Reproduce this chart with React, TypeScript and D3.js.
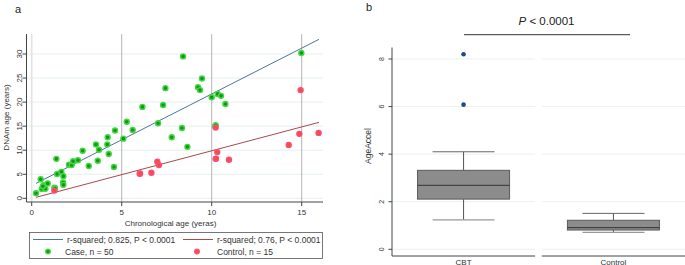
import React from "react";
import * as d3 from "d3";

// Panel a data
const caseX = [0.24, 0.5, 0.56, 0.67, 0.76, 0.89, 1.26, 1.37, 1.41, 1.65, 1.76, 1.74, 1.76, 2.07, 2.22, 2.3, 2.57, 2.83, 3.17, 3.57, 3.67, 3.74, 4.2, 4.22, 4.28, 4.57, 4.63, 5.09, 5.28, 5.61, 6.15, 7.02, 7.3, 7.43, 7.78, 8.35, 8.41, 8.65, 9.24, 9.35, 9.46, 10.0, 10.2, 10.33, 10.52, 10.76, 14.98, 0.62, 1.3, 10.22];
const caseY = [1.04, 3.95, 1.94, 2.7, 2.0, 3.1, 2.2, 8.2, 5.06, 5.5, 4.6, 3.3, 2.8, 7.0, 6.9, 7.7, 7.9, 9.9, 6.7, 11.2, 7.8, 10.1, 11.2, 12.7, 9.2, 6.5, 14.1, 12.4, 15.9, 14.2, 19.0, 15.6, 19.4, 22.9, 12.7, 14.6, 29.5, 10.7, 23.1, 22.5, 24.9, 21.0, 15.0, 21.7, 21.3, 19.6, 30.2, 2.5, 2.1, 15.2];
const ctrlX = [1.26, 6.0, 6.65, 6.98, 7.07, 10.22, 10.22, 10.31, 10.96, 14.28, 14.87, 14.94, 15.94, 6.02, 10.24];
const ctrlY = [1.6, 5.1, 5.3, 7.6, 6.9, 14.7, 8.2, 9.6, 8.0, 11.1, 13.4, 22.5, 13.6, 5.15, 8.25];
const caseFit = { slope: 1.905, intercept: 2.64 };
const ctrlFit = { slope: 0.992, intercept: -0.04 };
const fitRange = [0.24, 15.96];
const xTicksA = [0, 5, 10, 15];
const yTicksA = [0, 5, 10, 15, 20, 25, 30];
const legendLabels = ["r-squared; 0.825, P < 0.0001", "r-squared; 0.76, P < 0.0001", "Case, n = 50", "Control, n = 15"];

// Panel b data
const groups = ["CBT", "Control"];
const q1 = [2.11, 0.81];
const medians = [2.69, 0.91];
const q3 = [3.32, 1.22];
const whiskLo = [1.24, 0.71];
const whiskHi = [4.1, 1.51];
const outliers = [[8.2, 6.08], []];
const yTicksB = [0, 2, 4, 6, 8];

const FONT = "'Liberation Sans', Arial, sans-serif";
const BLUE = "#4d74a3";
const RED = "#a64a4e";

export default function App() {
  const xA = d3.scaleLinear().domain([0, 15]).range([31.7, 301.7]);
  const yA = d3.scaleLinear().domain([0, 30]).range([198.3, 54]);
  const line = d3.line<number>().x((d) => xA(d[0])).y((d) => yA(d[1]));
  const fitPts = (f: { slope: number; intercept: number }) =>
    fitRange.map((x) => [x, f.intercept + f.slope * x]) as any;

  const xB = d3.scaleBand().domain(groups).range([392, 685]).paddingInner(0.045);
  const yB = d3.scaleLinear().domain([0, 8]).range([249.3, 59]);
  const boxHalf = 46;
  const capHalf = 31;

  const axLeftA = 26.5;
  const axBottomA = 202;
  const plotRightA = 323;

  return (
    <svg width={685} height={265} style={{ position: "absolute", left: 0, top: 0, background: "#fff" }} fontFamily={FONT}>
      {/* ---------- Panel a ---------- */}
      <text x={15} y={13} fontSize={11} fill="#222">a</text>
      {yTicksA.map((t) => (
        <line key={"hg" + t} x1={axLeftA} x2={plotRightA} y1={yA(t)} y2={yA(t)} stroke="#e6efef" strokeWidth={1} />
      ))}
      {xTicksA.map((t) => (
        <line key={"vg" + t} x1={xA(t)} x2={xA(t)} y1={34} y2={axBottomA} stroke={t === 0 ? "#e2e2e2" : "#b4b4b4"} strokeWidth={t === 0 ? 1.6 : 1} />
      ))}
      <line x1={axLeftA} x2={axLeftA} y1={34} y2={axBottomA} stroke="#444" strokeWidth={1} />
      <line x1={axLeftA} x2={plotRightA} y1={axBottomA} y2={axBottomA} stroke="#444" strokeWidth={1} />
      {yTicksA.map((t) => (
        <g key={"yt" + t}>
          <line x1={axLeftA - 4} x2={axLeftA} y1={yA(t)} y2={yA(t)} stroke="#444" />
          <text transform={`translate(${21.5},${yA(t)}) rotate(-90)`} textAnchor="middle" fontSize={8} fill="#333">{t}</text>
        </g>
      ))}
      {xTicksA.map((t) => (
        <g key={"xt" + t}>
          <line x1={xA(t)} x2={xA(t)} y1={axBottomA} y2={axBottomA + 4} stroke="#444" />
          <text x={xA(t)} y={215} textAnchor="middle" fontSize={8} fill="#333">{t}</text>
        </g>
      ))}
      <text x={170.5} y={226} textAnchor="middle" fontSize={8} fill="#333">Chronological age (yeras)</text>
      <text transform={`translate(${8.5},${117.5}) rotate(-90)`} textAnchor="middle" fontSize={8} fill="#333">DNAm age (years)</text>
      <path d={line(fitPts(caseFit)) as string} fill="none" stroke={BLUE} strokeWidth={1} />
      <path d={line(fitPts(ctrlFit)) as string} fill="none" stroke={RED} strokeWidth={1} />
      {caseX.map((x, i) => (
        <circle key={"c" + i} cx={xA(x)} cy={yA(caseY[i])} r={2.5} fill="#1f8f1f" stroke="#3ddc3d" strokeWidth={1.4} />
      ))}
      {ctrlX.map((x, i) => (
        <circle key={"r" + i} cx={xA(x)} cy={yA(ctrlY[i])} r={2.5} fill="#e8582c" stroke="#ff4a82" strokeWidth={1.4} />
      ))}
      <rect x={29.5} y={232.5} width={293} height={26} fill="#fff" stroke="#555" strokeWidth={0.8} />
      <line x1={33} x2={63} y1={239.5} y2={239.5} stroke={BLUE} strokeWidth={1} />
      <text x={67} y={242.5} fontSize={8.5} fill="#333">{legendLabels[0]}</text>
      <line x1={183} x2={213} y1={239.5} y2={239.5} stroke={RED} strokeWidth={1} />
      <text x={217} y={242.5} fontSize={8.5} fill="#333">{legendLabels[1]}</text>
      <circle cx={48} cy={251.5} r={2.3} fill="#1f8f1f" stroke="#3ddc3d" strokeWidth={1.3} />
      <text x={65} y={254.5} fontSize={8.5} fill="#333">{legendLabels[2]}</text>
      <circle cx={197} cy={251.5} r={2.3} fill="#e8582c" stroke="#ff4a82" strokeWidth={1.3} />
      <text x={217} y={254.5} fontSize={8.5} fill="#333">{legendLabels[3]}</text>

      {/* ---------- Panel b ---------- */}
      <text x={366} y={11} fontSize={11} fill="#222">b</text>
      <text x={546.5} y={25} textAnchor="middle" fontSize={11.5} fill="#222">
        <tspan fontStyle="italic">P</tspan> &lt; 0.0001
      </text>
      <line x1={464} x2={630} y1={34.7} y2={34.7} stroke="#333" strokeWidth={1} />
      {groups.map((g) => {
        const x0 = xB(g) as number;
        const w = xB.bandwidth();
        return (
          <g key={"f" + g}>
            {yTicksB.map((t) => (
              <line key={t} x1={x0} x2={x0 + w} y1={yB(t)} y2={yB(t)} stroke="#eaf1f1" strokeWidth={1} />
            ))}
            <line x1={x0} x2={x0 + w} y1={256} y2={256} stroke="#444" strokeWidth={1} />
            <text x={x0 + w / 2} y={264.5} textAnchor="middle" fontSize={8} fill="#333">{g}</text>
          </g>
        );
      })}
      <line x1={392} x2={392} y1={47.5} y2={256} stroke="#444" strokeWidth={1} />
      {yTicksB.map((t) => (
        <g key={"ybt" + t}>
          <line x1={388.5} x2={392} y1={yB(t)} y2={yB(t)} stroke="#444" />
          <text transform={`translate(${383.5},${yB(t)}) rotate(-90)`} textAnchor="middle" fontSize={7} fill="#333">{t}</text>
        </g>
      ))}
      <text transform={`translate(${370.5},${146}) rotate(-90)`} textAnchor="middle" fontSize={8.5} fill="#333">AgeAccel</text>
      {groups.map((g, i) => {
        const cx = (xB(g) as number) + xB.bandwidth() / 2;
        return (
          <g key={"box" + g}>
            <line x1={cx} x2={cx} y1={yB(whiskHi[i])} y2={yB(q3[i])} stroke="#555" strokeWidth={1} />
            <line x1={cx} x2={cx} y1={yB(q1[i])} y2={yB(whiskLo[i])} stroke="#555" strokeWidth={1} />
            <line x1={cx - capHalf} x2={cx + capHalf} y1={yB(whiskHi[i])} y2={yB(whiskHi[i])} stroke="#666" strokeWidth={1} />
            <line x1={cx - capHalf} x2={cx + capHalf} y1={yB(whiskLo[i])} y2={yB(whiskLo[i])} stroke="#999" strokeWidth={1.3} />
            <rect x={cx - boxHalf} y={yB(q3[i])} width={boxHalf * 2} height={yB(q1[i]) - yB(q3[i])} fill="#8c8c8c" stroke="#5a5a5a" strokeWidth={1} />
            <line x1={cx - boxHalf} x2={cx + boxHalf} y1={yB(medians[i])} y2={yB(medians[i])} stroke="#333" strokeWidth={1} />
            {outliers[i].map((o, j) => (
              <circle key={j} cx={cx} cy={yB(o)} r={2.3} fill="#1c4c85" />
            ))}
          </g>
        );
      })}
    </svg>
  );
}
